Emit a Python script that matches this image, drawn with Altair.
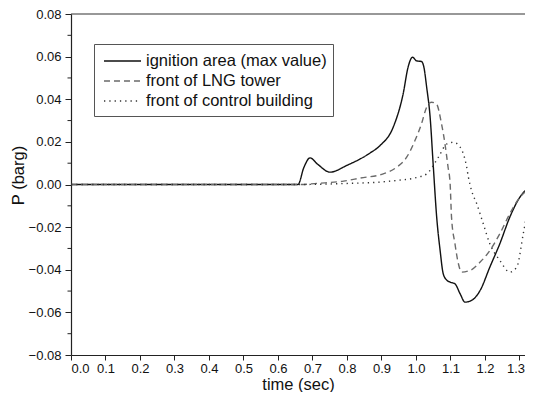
import altair as alt
import pandas as pd

# ignition area (max value)
t_ign = [0.0, 0.658, 0.675, 0.693, 0.715, 0.751, 0.80, 0.867, 0.896, 0.934, 0.963, 0.977, 0.990, 1.002,
         1.016, 1.023, 1.031, 1.041, 1.050, 1.060, 1.070, 1.079, 1.090, 1.099, 1.113, 1.128, 1.142, 1.161,
         1.186, 1.214, 1.243, 1.272, 1.301, 1.330, 1.345]
p_ign = [0.0, 0.0, 0.0080, 0.0125, 0.0095, 0.0058, 0.0090, 0.0148, 0.0183, 0.0269, 0.0427, 0.0550, 0.0597,
         0.0580, 0.0577, 0.0550, 0.0456, 0.0316, 0.0090, -0.0153, -0.0310, -0.0419, -0.0450, -0.0458,
         -0.0466, -0.0513, -0.0552, -0.0544, -0.0497, -0.0388, -0.0278, -0.0153, -0.0060, -0.0013, -0.0005]

# front of LNG tower
t_lng = [0.0, 0.660, 0.720, 0.790, 0.838, 0.905, 0.944, 0.973, 0.997, 1.016, 1.031, 1.045, 1.059, 1.074,
         1.084, 1.093, 1.099, 1.103, 1.113, 1.123, 1.132, 1.157, 1.186, 1.214, 1.243, 1.272, 1.301,
         1.330, 1.345]
p_lng = [0.0, 0.0, 0.0006, 0.0016, 0.0030, 0.0050, 0.0081, 0.0128, 0.0206, 0.0285, 0.0363, 0.0386, 0.0379,
         0.0285, 0.0191, 0.0081, 0.0003, -0.0153, -0.0278, -0.0372, -0.0411, -0.0403, -0.0364, -0.0310,
         -0.0231, -0.0137, -0.0060, -0.0020, -0.0010]

# front of control building
t_ctl = [0.0, 0.660, 0.800, 0.900, 0.944, 1.000, 1.031, 1.065, 1.089, 1.108, 1.128, 1.147, 1.152, 1.161,
         1.176, 1.195, 1.214, 1.243, 1.272, 1.292, 1.311, 1.325, 1.335, 1.345]
p_ctl = [0.0, 0.0, 0.0005, 0.0012, 0.0019, 0.0032, 0.0050, 0.0128, 0.0190, 0.0198, 0.0175, 0.0081, 0.0034,
         -0.0028, -0.0090, -0.0184, -0.0278, -0.0356, -0.0411, -0.0388, -0.0231, -0.0106, -0.0028, 0.0]

series_names = ["ignition area (max value)", "front of LNG tower", "front of control building"]
series_colors = ["#111111", "#6a6a6a", "#333333"]
series_dash = [[1, 0], [6, 4], [1.3, 4]]

x_ticks = [round(0.1 * i, 1) for i in range(14)]
y_ticks = [round(-0.08 + 0.02 * i, 2) for i in range(9)]
y_minor = [round(-0.07 + 0.02 * i, 2) for i in range(8)]

frames = []
for name, ts, ps in zip(series_names, [t_ign, t_lng, t_ctl], [p_ign, p_lng, p_ctl]):
    frames.append(pd.DataFrame({"t": ts, "p": ps, "series": name, "order": range(len(ts))}))
df = pd.concat(frames, ignore_index=True)

W, H = 454, 341
X_END = 1.316
FONT = "Liberation Sans"

xscale = alt.Scale(domain=[0, X_END], nice=False)
yscale = alt.Scale(domain=[-0.08, 0.08], nice=False)

lines = alt.Chart(df).mark_line(strokeWidth=1.4, clip=True, interpolate="monotone").encode(
    x=alt.X("t:Q", scale=xscale,
            axis=alt.Axis(title="time (sec)", values=x_ticks, format=".1f", tickSize=5,
                          labelPadding=2, titlePadding=1, grid=False,
                          labelOffset=alt.ExprRef("datum.value > 1.25 ? -4 : 0"))),
    y=alt.Y("p:Q", scale=yscale,
            axis=alt.Axis(title="P (barg)", values=y_ticks, format=".2f", tickSize=6,
                          labelPadding=4, titleX=-45, titleY=161, grid=False)),
    color=alt.Color("series:N", scale=alt.Scale(domain=series_names, range=series_colors),
                    legend=alt.Legend(title=None)),
    strokeDash=alt.StrokeDash("series:N", scale=alt.Scale(domain=series_names, range=series_dash),
                              legend=alt.Legend(title=None)),
    detail="series:N",
    order="order:Q",
)

minor = alt.Chart(pd.DataFrame({"v": y_minor})).mark_rule(color="#222", strokeWidth=1).encode(
    y=alt.Y("v:Q", scale=yscale),
    x=alt.value(-3.5),
    x2=alt.value(0),
)

top = alt.Chart(pd.DataFrame({"v": [0.08]})).mark_rule(color="#333", strokeWidth=1.2).encode(
    y=alt.Y("v:Q", scale=yscale),
    x=alt.value(0),
    x2=alt.value(W),
)

chart = alt.layer(lines, minor, top).properties(
    width=W, height=H,
    autosize=alt.AutoSizeParams(type="none"),
    padding={"left": 63, "top": 6, "right": 0, "bottom": 37},
).configure_view(stroke=None).configure_axis(
    domainColor="#222", domainWidth=1.2, tickColor="#222", tickWidth=1,
    labelFont=FONT, labelFontSize=13, labelColor="#111",
    titleFont=FONT, titleFontSize=16.5, titleFontWeight=400, titleColor="#111",
).configure_legend(
    orient="none", legendX=23, legendY=30,
    strokeColor="#555", fillColor="white", padding=6,
    symbolType="M-1.85,0H1.85", symbolSize=400, symbolStrokeWidth=1.4,
    labelFont=FONT, labelFontSize=16.5, labelColor="#111", labelOffset=12.5, labelLimit=0,
    rowPadding=0, symbolOffset=11.5,
)

chart.save("out.html", embed_options={"renderer": "svg", "actions": False})
